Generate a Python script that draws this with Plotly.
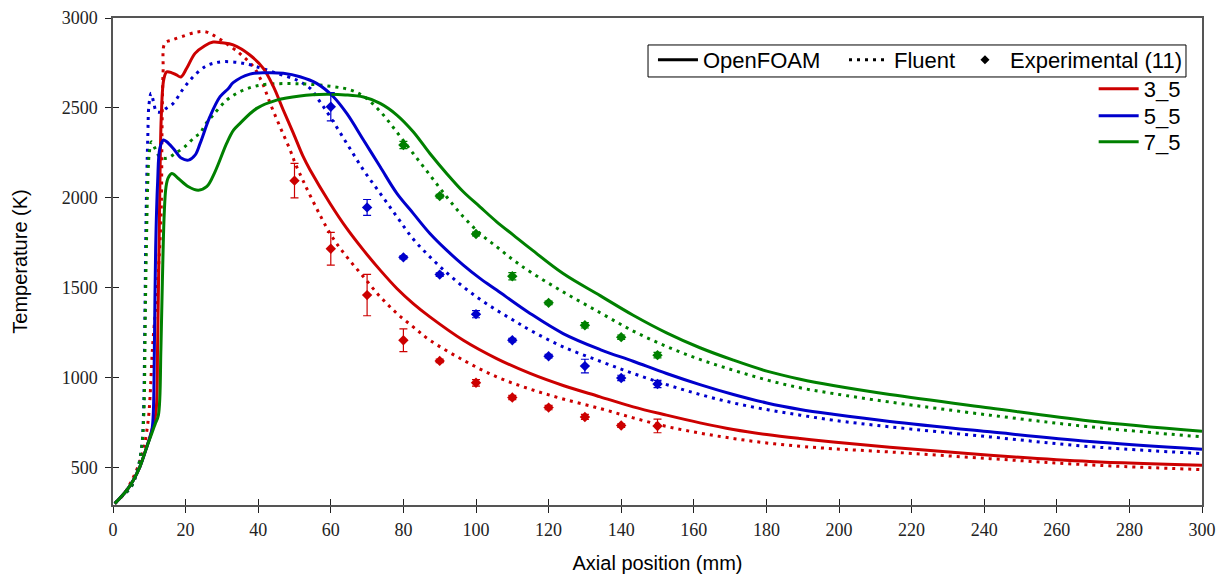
import plotly.graph_objects as go

RED = "#cc0000"
BLUE = "#0000cc"
GREEN = "#008000"

# ---------------- OpenFOAM (solid) ----------------
of35_x = [0.5, 3.8, 5.6, 7.4, 9.3, 10.7, 11.8, 12.3, 12.8, 13.3, 14.0, 14.8, 16.2, 17.5, 18.7, 20.3, 22.6, 25.3, 27.6, 30.0,
          33.1, 37.7, 41.4, 44.2, 46.9, 49.7, 52.4, 54.3, 59.8, 64.4, 69.0, 73.6, 78.2, 82.7, 87.3, 96.5, 105.7, 114.9, 124.0,
          134.2, 143.3, 152.5, 161.7, 170.9, 180.1, 189.3, 198.4, 214.0, 241.6, 269.1, 300.0]
of35_T = [298, 372, 428, 502, 613, 706, 800, 1200, 1900, 2450, 2660, 2700, 2695, 2683, 2672, 2720, 2803, 2846, 2866, 2862,
          2850, 2794, 2720, 2618, 2488, 2358, 2228, 2154, 1968, 1829, 1708, 1597, 1495, 1411, 1337, 1207, 1105, 1022, 955,
          892, 836, 790, 747, 710, 682, 660, 641, 612, 567, 532, 511]

of55_x = [0.5, 3.8, 5.6, 7.4, 9.3, 10.7, 11.1, 11.4, 11.75, 12.3, 12.9, 13.9, 14.8, 16.6, 18.9, 20.8, 22.6, 24.0, 26.7, 29.5,
          31.8, 33.1, 37.7, 42.3, 46.9, 51.5, 56.1, 60.7, 64.4, 69.0, 73.6, 78.2, 82.7, 87.3, 91.9, 96.5, 101.1, 105.7, 114.9,
          124.0, 134.2, 143.3, 152.5, 161.7, 170.9, 180.1, 189.3, 198.4, 214.0, 241.6, 269.1, 300.0]
of55_T = [298, 372, 428, 502, 613, 706, 800, 1161, 1718, 2089, 2274, 2321, 2311, 2274, 2219, 2209, 2237, 2302, 2451, 2562,
          2608, 2640, 2688, 2695, 2692, 2673, 2636, 2562, 2469, 2321, 2172, 2024, 1913, 1801, 1708, 1625, 1551, 1486, 1356,
          1244, 1155, 1090, 1022, 960, 905, 858, 822, 795, 755, 697, 643, 600]

of75_x = [0.5, 3.8, 5.6, 7.4, 9.3, 10.7, 11.6, 12.5, 13.2, 13.6, 14.1, 14.6, 15.2, 16.2, 18.0, 20.8, 23.5, 25.8, 28.1, 31.3,
          33.2, 35.0, 39.6, 45.1, 51.5, 58.9, 64.0, 69.0, 73.6, 78.2, 82.7, 87.3, 91.9, 96.5, 101.1, 105.7, 110.3, 114.9,
          124.0, 134.2, 143.3, 152.5, 161.7, 170.9, 180.1, 189.3, 198.4, 214.0, 241.6, 269.1, 300.0]
of75_T = [298, 372, 428, 502, 613, 690, 740, 790, 1161, 1532, 1903, 2060, 2110, 2135, 2107, 2061, 2042, 2061, 2144, 2302,
          2376, 2414, 2497, 2543, 2566, 2575, 2572, 2560, 2525, 2460, 2367, 2246, 2135, 2033, 1949, 1866, 1792, 1718,
          1578, 1455, 1346, 1248, 1165, 1096, 1035, 990, 955, 905, 830, 758, 700]

# ---------------- Fluent (dotted) ----------------
fl35_x = [0.5, 3.0, 5.0, 7.0, 8.5, 9.7, 10.2, 10.9, 12.0, 12.8, 13.3, 13.5, 13.8, 14.3, 16.2, 18.9, 22.6, 25.3, 27.6, 33.1,
          35.9, 38.7, 41.0, 43.3, 46.0, 48.8, 50.6, 59.8, 64.4, 69.0, 73.6, 78.2, 82.7, 87.3, 96.5, 105.7, 114.9, 124.0,
          134.2, 143.3, 152.5, 161.7, 170.9, 180.1, 189.3, 198.4, 214.0, 241.6, 269.1, 300.0]
fl35_T = [298, 350, 420, 510, 610, 762, 892, 1170, 1450, 1700, 1950, 2376, 2700, 2860, 2877, 2896, 2920, 2924, 2905, 2831,
          2785, 2729, 2645, 2525, 2395, 2265, 2172, 1801, 1671, 1560, 1449, 1356, 1281, 1207, 1096, 1003, 935, 880,
          827, 775, 727, 690, 660, 635, 617, 603, 585, 548, 513, 487]

fl55_x = [0.5, 3.0, 4.7, 6.5, 7.9, 8.4, 8.8, 9.0, 9.3, 9.6, 9.9, 10.5, 11.2, 12.0, 13.4, 14.5, 16.6, 19.4, 22.1, 25.3, 27.6,
          30.4, 35.0, 39.6, 45.1, 50.6, 54.3, 57.0, 59.8, 64.4, 69.0, 73.6, 78.2, 82.7, 87.3, 91.9, 96.5, 101.1, 105.7, 110.3,
          114.9, 124.0, 134.2, 143.3, 152.5, 161.7, 170.9, 180.1, 189.3, 198.4, 214.0, 241.6, 269.1, 300.0]
fl55_T = [298, 350, 381, 465, 613, 799, 1356, 1727, 2100, 2350, 2516, 2581, 2530, 2478, 2478, 2495, 2525, 2608, 2673, 2729,
          2748, 2757, 2751, 2729, 2692, 2655, 2608, 2534, 2451, 2302, 2154, 2024, 1894, 1770, 1671, 1583, 1504, 1435, 1374,
          1318, 1263, 1170, 1090, 1022, 960, 905, 858, 821, 790, 762, 725, 669, 615, 576]

fl75_x = [0.5, 3.0, 4.7, 6.5, 7.9, 8.5, 8.9, 9.2, 9.6, 10.0, 10.6, 11.6, 12.9, 14.8, 17.1, 19.8, 22.6, 24.0, 25.3, 27.6,
          31.3, 35.0, 38.7, 42.3, 51.5, 60.7, 65.3, 69.0, 73.6, 78.2, 82.7, 87.3, 91.9, 96.5, 101.1, 105.7, 110.3, 114.9,
          124.0, 134.2, 143.3, 152.5, 161.7, 170.9, 180.1, 189.3, 198.4, 214.0, 241.6, 269.1, 300.0]
fl75_T = [298, 350, 381, 465, 613, 799, 1356, 1727, 2100, 2250, 2311, 2274, 2228, 2219, 2246, 2284, 2339, 2358, 2404, 2460,
          2543, 2590, 2618, 2631, 2634, 2618, 2600, 2565, 2480, 2365, 2246, 2126, 2005, 1894, 1801, 1727, 1653, 1588,
          1476, 1360, 1258, 1172, 1100, 1040, 986, 942, 910, 863, 790, 725, 669]

# ---------------- Experimental (11) ----------------
ex35_x = [50, 60, 70, 80, 90, 100, 110, 120, 130, 140, 150]
ex35_T = [2095, 1716, 1458, 1207, 1092, 970, 888, 832, 780, 732, 730]
ex35_e = [96, 91, 115, 63, 10, 18, 12, 12, 14, 10, 38]

ex55_x = [60, 70, 80, 90, 100, 110, 120, 130, 140, 150]
ex55_T = [2506, 1946, 1668, 1572, 1352, 1207, 1118, 1063, 997, 963]
ex55_e = [79, 44, 8, 10, 20, 10, 10, 38, 15, 20]

ex75_x = [80, 90, 100, 110, 120, 130, 140, 150]
ex75_T = [2293, 2009, 1798, 1563, 1415, 1290, 1224, 1124]
ex75_e = [20, 10, 10, 20, 10, 15, 12, 15]

x_ticks = list(range(0, 301, 20))
y_ticks = [500, 1000, 1500, 2000, 2500, 3000]
case_names = ["3_5", "5_5", "7_5"]

DOT = "3px,5px"
SMOOTH = 1.0
fig = go.Figure()

for x, y, c in [(fl35_x, fl35_T, RED), (fl55_x, fl55_T, BLUE), (fl75_x, fl75_T, GREEN)]:
    fig.add_trace(go.Scatter(x=x, y=y, mode="lines", showlegend=False, hoverinfo="skip",
                             line=dict(color=c, width=3, dash=DOT, shape="spline", smoothing=SMOOTH)))
for x, y, c in [(of35_x, of35_T, RED), (of55_x, of55_T, BLUE), (of75_x, of75_T, GREEN)]:
    fig.add_trace(go.Scatter(x=x, y=y, mode="lines", showlegend=False,
                             line=dict(color=c, width=3, shape="spline", smoothing=SMOOTH)))
for x, y, e, c in [(ex35_x, ex35_T, ex35_e, RED), (ex55_x, ex55_T, ex55_e, BLUE), (ex75_x, ex75_T, ex75_e, GREEN)]:
    fig.add_trace(go.Scatter(x=x, y=y, mode="markers", showlegend=False,
                             marker=dict(symbol="diamond", size=8, color=c),
                             error_y=dict(type="data", array=e, visible=True, color=c, thickness=1.2, width=4)))

# legend proxies (method legend entries, each its own legend for spacing)
fig.add_trace(go.Scatter(x=[None], y=[None], mode="lines", name="OpenFOAM",
                         line=dict(color="black", width=3), legend="legend"))
fig.add_trace(go.Scatter(x=[None], y=[None], mode="lines", name="Fluent",
                         line=dict(color="black", width=3, dash=DOT), legend="legend5"))
fig.add_trace(go.Scatter(x=[None], y=[None], mode="markers", name="Experimental (11)",
                         marker=dict(symbol="diamond", size=7, color="black"), legend="legend6"))
for i, (name, c) in enumerate(zip(case_names, [RED, BLUE, GREEN])):
    fig.add_trace(go.Scatter(x=[None], y=[None], mode="lines", name=name,
                             line=dict(color=c, width=3), legend=f"legend{i + 2}"))

# overlay axes for inward half of cross ticks
fig.add_trace(go.Scatter(x=[None], y=[None], xaxis="x2", yaxis="y2", showlegend=False, hoverinfo="skip"))

AX = "#555555"
tickfont = dict(family="Liberation Serif", size=18, color="#222222")
titlefont = dict(family="Liberation Sans", size=20, color="black")
legfont = dict(family="Liberation Sans", size=22, color="black")

def single_legend(xright, ytop):
    return dict(orientation="v", x=xright, xanchor="right", y=ytop, yanchor="top",
                borderwidth=0, bgcolor="rgba(0,0,0,0)", font=legfont, itemwidth=40, tracegroupgap=0)

fig.update_layout(
    width=1229, height=574,
    margin=dict(l=113, r=27, t=18, b=69, autoexpand=False),
    paper_bgcolor="white", plot_bgcolor="white",
    xaxis=dict(range=[0, 300], tickvals=x_ticks, ticks="outside", ticklen=6, tickcolor="#222222", tickwidth=1.2,
               showline=True, linecolor=AX, linewidth=1.5, mirror=True, showgrid=False, zeroline=False,
               tickfont=tickfont, ticklabelstandoff=2, automargin=False,
               title=dict(text="Axial position (mm)", font=titlefont, standoff=22)),
    yaxis=dict(range=[290, 3000], tickvals=y_ticks, ticks="outside", ticklen=6, tickcolor="#222222", tickwidth=1.2,
               showline=True, linecolor=AX, linewidth=1.5, mirror=True, showgrid=False, zeroline=False,
               tickfont=tickfont, ticklabelstandoff=4, automargin=False,
               title=dict(text="Temperature (K)", font=titlefont, standoff=29)),
    xaxis2=dict(range=[0, 300], tickvals=x_ticks, overlaying="x", anchor="y", side="bottom", ticks="inside",
                ticklen=6, tickcolor="#222222", tickwidth=1.2, showticklabels=False, showline=False,
                showgrid=False, zeroline=False),
    yaxis2=dict(range=[290, 3000], tickvals=y_ticks, overlaying="y", anchor="x", side="left", ticks="inside",
                ticklen=6, tickcolor="#222222", tickwidth=1.2, showticklabels=False, showline=False,
                showgrid=False, zeroline=False),
    legend=single_legend(0.6547, 0.9569),
    legend5=single_legend(0.7787, 0.9569),
    legend6=single_legend(0.9862, 0.9569),
    legend2=single_legend(0.985, 0.8973),
    legend3=single_legend(0.985, 0.8419),
    legend4=single_legend(0.985, 0.7885),
    shapes=[dict(type="rect", xref="paper", yref="paper", x0=0.4913, x1=0.9853, y0=0.8789, y1=0.9446,
                 line=dict(color="black", width=1), fillcolor="white", layer="below")],
    showlegend=True,
)

fig.write_html("out.html")
